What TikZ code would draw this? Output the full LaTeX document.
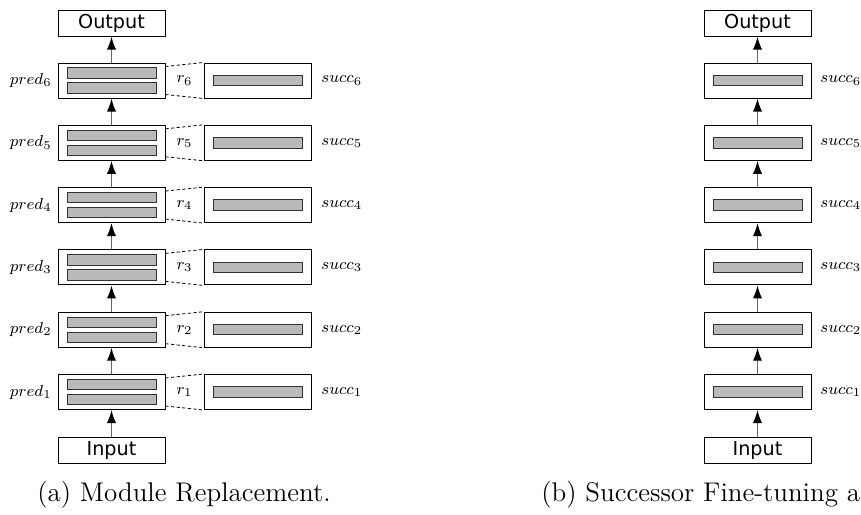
\documentclass[tikz,border=0pt]{standalone}
\usepackage{fontspec}
\usepackage{amsmath}
\usetikzlibrary{arrows.meta}
\newfontfamily\boxfont{DejaVu Sans}

\begin{document}
\begin{tikzpicture}[x=0.5pt,y=0.5pt]
\tikzstyle{every node}+=[inner sep=0pt, font=\fontsize{8.5}{10}\selectfont]
\tikzstyle{layer}=[draw=black, line width=0.5pt, minimum width=53.5pt, minimum height=17.5pt]
\tikzstyle{io}=[draw=black, line width=0.5pt, minimum width=53.5pt, minimum height=13pt, font=\boxfont\fontsize{9.6}{11}\selectfont]
\tikzstyle{bar}=[draw=black!80, fill=black!27, line width=0.5pt, minimum width=44.5pt, minimum height=5.2pt]
\tikzstyle{link}=[draw=black!60, line width=0.7pt, -{Latex[length=6.5pt,width=4.6pt,color=black]}]
\tikzstyle{zoomline}=[draw=black, line width=0.4pt, dash pattern=on 1.6pt off 1.2pt]
\tikzstyle{caption}=[anchor=base, font=\fontsize{13.5}{16}\selectfont]
\useasboundingbox (0,0) rectangle (861,-514);
\clip (0,0) rectangle (861,-514);
% (a) module replacement
\node [io] (output1) at (111.5,-23) {Output};
\node [io] (input1) at (111.5,-450) {Input};
\node [layer] (pred1) at (111.5,-392) {};
\node [bar] (pred1a) at (111.5,-384.5) {};
\node [bar] (pred1b) at (111.5,-399.5) {};
\node [layer] (pred2) at (111.5,-329.7) {};
\node [bar] (pred2a) at (111.5,-322.2) {};
\node [bar] (pred2b) at (111.5,-337.2) {};
\node [layer] (pred3) at (111.5,-267.4) {};
\node [bar] (pred3a) at (111.5,-259.9) {};
\node [bar] (pred3b) at (111.5,-274.9) {};
\node [layer] (pred4) at (111.5,-205.1) {};
\node [bar] (pred4a) at (111.5,-197.6) {};
\node [bar] (pred4b) at (111.5,-212.6) {};
\node [layer] (pred5) at (111.5,-142.8) {};
\node [bar] (pred5a) at (111.5,-135.3) {};
\node [bar] (pred5b) at (111.5,-150.3) {};
\node [layer] (pred6) at (111.5,-80.5) {};
\node [bar] (pred6a) at (111.5,-73) {};
\node [bar] (pred6b) at (111.5,-88) {};
\node [anchor=east] (predlab1) at (52,-392) {$pred_1$};
\node [anchor=east] (predlab2) at (52,-329.7) {$pred_2$};
\node [anchor=east] (predlab3) at (52,-267.4) {$pred_3$};
\node [anchor=east] (predlab4) at (52,-205.1) {$pred_4$};
\node [anchor=east] (predlab5) at (52,-142.8) {$pred_5$};
\node [anchor=east] (predlab6) at (52,-80.5) {$pred_6$};
\node [layer] (succ1) at (257.5,-392) {};
\node [bar] (succ1a) at (257.5,-392) {};
\node [layer] (succ2) at (257.5,-329.7) {};
\node [bar] (succ2a) at (257.5,-329.7) {};
\node [layer] (succ3) at (257.5,-267.4) {};
\node [bar] (succ3a) at (257.5,-267.4) {};
\node [layer] (succ4) at (257.5,-205.1) {};
\node [bar] (succ4a) at (257.5,-205.1) {};
\node [layer] (succ5) at (257.5,-142.8) {};
\node [bar] (succ5a) at (257.5,-142.8) {};
\node [layer] (succ6) at (257.5,-80.5) {};
\node [bar] (succ6a) at (257.5,-80.5) {};
\node [anchor=west] (succlab1) at (321,-392) {$succ_1$};
\node [anchor=west] (succlab2) at (321,-329.7) {$succ_2$};
\node [anchor=west] (succlab3) at (321,-267.4) {$succ_3$};
\node [anchor=west] (succlab4) at (321,-205.1) {$succ_4$};
\node [anchor=west] (succlab5) at (321,-142.8) {$succ_5$};
\node [anchor=west] (succlab6) at (321,-80.5) {$succ_6$};
\node (r1) at (184.5,-392) {$r_1$};
\node (r2) at (184.5,-329.7) {$r_2$};
\node (r3) at (184.5,-267.4) {$r_3$};
\node (r4) at (184.5,-205.1) {$r_4$};
\node (r5) at (184.5,-142.8) {$r_5$};
\node (r6) at (184.5,-80.5) {$r_6$};
\draw [link] (input1) -- (pred1);
\draw [link] (pred1) -- (pred2);
\draw [link] (pred2) -- (pred3);
\draw [link] (pred3) -- (pred4);
\draw [link] (pred4) -- (pred5);
\draw [link] (pred5) -- (pred6);
\draw [link] (pred6) -- (output1);
\draw [zoomline] ([yshift=-2pt]pred1.north east) -- (succ1.north west);
\draw [zoomline] ([yshift=2pt]pred1.south east) -- (succ1.south west);
\draw [zoomline] ([yshift=-2pt]pred2.north east) -- (succ2.north west);
\draw [zoomline] ([yshift=2pt]pred2.south east) -- (succ2.south west);
\draw [zoomline] ([yshift=-2pt]pred3.north east) -- (succ3.north west);
\draw [zoomline] ([yshift=2pt]pred3.south east) -- (succ3.south west);
\draw [zoomline] ([yshift=-2pt]pred4.north east) -- (succ4.north west);
\draw [zoomline] ([yshift=2pt]pred4.south east) -- (succ4.south west);
\draw [zoomline] ([yshift=-2pt]pred5.north east) -- (succ5.north west);
\draw [zoomline] ([yshift=2pt]pred5.south east) -- (succ5.south west);
\draw [zoomline] ([yshift=-2pt]pred6.north east) -- (succ6.north west);
\draw [zoomline] ([yshift=2pt]pred6.south east) -- (succ6.south west);
\node [caption] (capa) at (184,-501) {(a) Module Replacement.};
% (b) successor fine-tuning
\node [io] (output2) at (757.5,-23) {Output};
\node [io] (input2) at (757.5,-450) {Input};
\node [layer] (tune1) at (757.5,-392) {};
\node [bar] (tune1a) at (757.5,-392) {};
\node [layer] (tune2) at (757.5,-329.7) {};
\node [bar] (tune2a) at (757.5,-329.7) {};
\node [layer] (tune3) at (757.5,-267.4) {};
\node [bar] (tune3a) at (757.5,-267.4) {};
\node [layer] (tune4) at (757.5,-205.1) {};
\node [bar] (tune4a) at (757.5,-205.1) {};
\node [layer] (tune5) at (757.5,-142.8) {};
\node [bar] (tune5a) at (757.5,-142.8) {};
\node [layer] (tune6) at (757.5,-80.5) {};
\node [bar] (tune6a) at (757.5,-80.5) {};
\node [anchor=west] (tunelab1) at (820,-392) {$succ_1$};
\node [anchor=west] (tunelab2) at (820,-329.7) {$succ_2$};
\node [anchor=west] (tunelab3) at (820,-267.4) {$succ_3$};
\node [anchor=west] (tunelab4) at (820,-205.1) {$succ_4$};
\node [anchor=west] (tunelab5) at (820,-142.8) {$succ_5$};
\node [anchor=west] (tunelab6) at (820,-80.5) {$succ_6$};
\draw [link] (input2) -- (tune1);
\draw [link] (tune1) -- (tune2);
\draw [link] (tune2) -- (tune3);
\draw [link] (tune3) -- (tune4);
\draw [link] (tune4) -- (tune5);
\draw [link] (tune5) -- (tune6);
\draw [link] (tune6) -- (output2);
\node [caption, anchor=base west] (capb) at (541,-501) {(b) Successor Fine-tuning a};
\end{tikzpicture}
\end{document}
